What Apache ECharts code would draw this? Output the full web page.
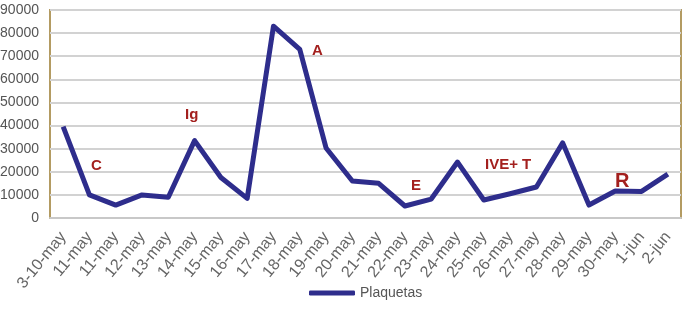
<!DOCTYPE html>
<html><head><meta charset="utf-8">
<script src="https://cdn.jsdelivr.net/npm/echarts@6/dist/echarts.min.js"></script>
<style>html,body{margin:0;padding:0;background:#fff}#c{width:683px;height:310px}</style>
</head><body><div id="c"></div>
<script>
var categories = ['3-10-may','11-may','11-may','12-may','13-may','14-may','15-may','16-may','17-may','18-may','19-may','20-may','21-may','22-may','23-may','24-may','25-may','26-may','27-may','28-may','29-may','30-may','1-jun','2-jun'];
var plaquetas = [39500,10000,5600,10000,9000,33500,17500,8500,83000,73000,30300,16000,15000,5200,8200,24200,7800,10500,13400,32500,5600,11700,11500,19000];
var yTicks = [0,10000,20000,30000,40000,50000,60000,70000,80000,90000];
var notes = [
  {t:'C', x:91, y:166, s:15},
  {t:'Ig', x:185, y:115, s:15},
  {t:'A', x:312, y:51, s:15},
  {t:'E', x:411, y:186, s:15},
  {t:'IVE+ T', x:485, y:165, s:15},
  {t:'R', x:615, y:181, s:20}
];
var FN = "'Liberation Sans',Arial,sans-serif";
var chart = echarts.init(document.getElementById('c'));
chart.setOption({
  animation:false,
  grid:{left:50,right:2,top:10,bottom:92,show:true,borderColor:'#b39b62',borderWidth:2,backgroundColor:'#fff',
    containLabel:false,outerBoundsMode:'none'},
  legend:{bottom:5,left:304,itemWidth:46,itemHeight:5,itemGap:5,icon:'roundRect',
    textStyle:{fontFamily:FN,fontSize:14,color:'#555'},data:['Plaquetas']},
  xAxis:{type:'category',data:categories,boundaryGap:true,
    axisLine:{lineStyle:{color:'#c8c8c8',width:2}},axisTick:{show:false},
    axisLabel:{rotate:51,interval:0,margin:16,fontFamily:FN,fontSize:16,color:'#666'}},
  yAxis:{type:'value',min:0,max:90000,interval:10000,
    axisLine:{show:false},axisTick:{show:false},
    splitLine:{lineStyle:{color:'#d2d2d2',width:2}},
    axisLabel:{margin:11,fontFamily:FN,fontSize:14,color:'#555',
      formatter:function(v){return yTicks.indexOf(v)>=0?String(v):'';}}},
  series:[{name:'Plaquetas',type:'line',data:plaquetas,symbol:'none',
    lineStyle:{color:'#2e2d8c',width:5,join:'round'},itemStyle:{color:'#2e2d8c'}}],
  graphic:notes.map(function(n){return {type:'text',x:n.x,y:n.y,z:100,
    style:{text:n.t,fill:'#a3201e',font:'bold '+n.s+'px '+FN,align:'left',verticalAlign:'middle'}};})
});
</script></body></html>
